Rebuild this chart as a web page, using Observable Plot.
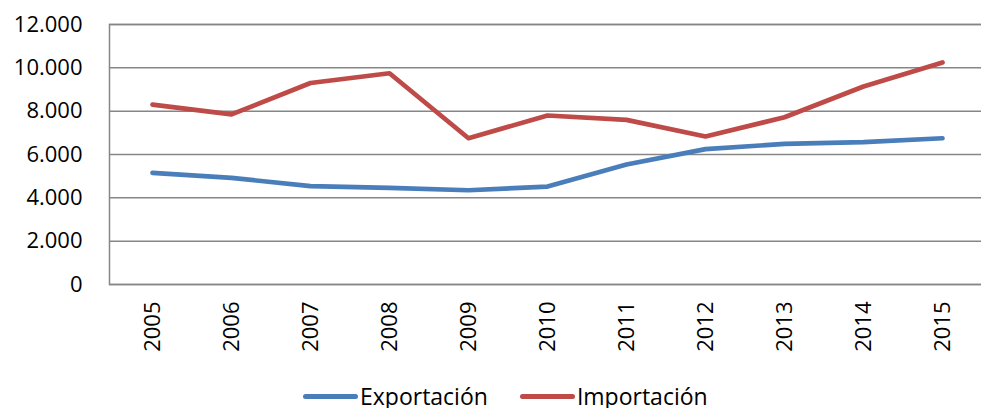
<!DOCTYPE html>
<html><head><meta charset="utf-8">
<script src="https://cdn.jsdelivr.net/npm/d3@7"></script>
<script src="https://cdn.jsdelivr.net/npm/@observablehq/plot@0.6"></script>
<style>
body{margin:0;background:#fff;font-family:"Open Sans",sans-serif;}
#chart{position:relative;width:981px;height:408px;overflow:hidden;background:#fff}
#chart svg{display:block}
.legend{position:absolute;top:384px;left:303px;display:flex;align-items:center;font-size:23px;color:#000;line-height:24px;height:24px}
.sw{display:inline-block;width:55px;height:5px;border-radius:3px;margin-right:2px}
.item{display:flex;align-items:center;margin-right:32px}
</style></head>
<body>
<div id="chart"></div>
<script>
const years = ["2005","2006","2007","2008","2009","2010","2011","2012","2013","2014","2015"];
const exportacion = [5150, 4920, 4540, 4460, 4350, 4520, 5540, 6250, 6490, 6570, 6750];
const importacion = [8300, 7850, 9300, 9750, 6750, 7800, 7600, 6830, 7720, 9140, 10250];
const seriesNames = ["Exportación", "Importación"];
const seriesColors = ["#4a7ebb", "#be4b48"];
const yTicks = [0, 2000, 4000, 6000, 8000, 10000, 12000];

const rows = [];
years.forEach((y, i) => {
  rows.push({year: y, value: exportacion[i], serie: seriesNames[0]});
  rows.push({year: y, value: importacion[i], serie: seriesNames[1]});
});

const fmt = d3.formatLocale({decimal: ",", thousands: ".", grouping: [3], currency: ["", ""]}).format(",d");

const chart = Plot.plot({
  width: 981, height: 370,
  marginLeft: 109, marginRight: -4, marginTop: 24, marginBottom: 86,
  style: {fontFamily: "'Open Sans', sans-serif", fontSize: "22px", color: "#000", background: "#fff"},
  x: {type: "point", domain: years, padding: 0.5, label: null},
  y: {domain: [0, 12000], label: null},
  color: {domain: seriesNames, range: seriesColors},
  marks: [
    Plot.gridY(yTicks, {stroke: "#868686", strokeOpacity: 1, strokeWidth: 1.5}),
    Plot.frame({stroke: "#868686", strokeWidth: 1.5}),
    Plot.axisY({ticks: yTicks, tickSize: 0, tickPadding: 27, tickFormat: fmt, label: null, fontSize: 22}),
    Plot.axisX({tickRotate: -90, tickSize: 0, tickPadding: 17, label: null, fontSize: 22}),
    Plot.line(rows, {x: "year", y: "value", z: "serie", stroke: "serie", strokeWidth: 4.7, strokeLinecap: "round", strokeLinejoin: "round"})
  ]
});
const host = document.getElementById("chart");
host.appendChild(chart);

const legend = document.createElement("div");
legend.className = "legend";
seriesNames.forEach((n, i) => {
  const it = document.createElement("div");
  it.className = "item";
  const sw = document.createElement("span");
  sw.className = "sw";
  sw.style.background = seriesColors[i];
  const t = document.createElement("span");
  t.textContent = n;
  it.appendChild(sw); it.appendChild(t);
  legend.appendChild(it);
});
host.appendChild(legend);
</script>
</body></html>
